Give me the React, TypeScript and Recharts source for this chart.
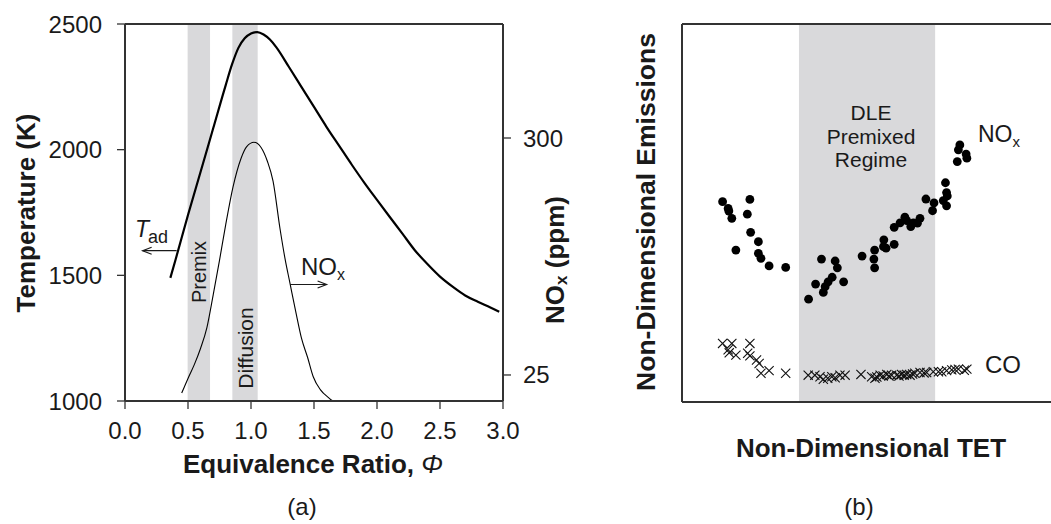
import {
  ComposedChart, ScatterChart, Line, Scatter, XAxis, YAxis, ReferenceArea, ReferenceLine,
} from 'recharts';

// ── panel (a): adiabatic flame temperature and NOx vs equivalence ratio ──
const PHI_TICKS = [0, 0.5, 1, 1.5, 2, 2.5, 3];
const TEMP_TICKS = [1000, 1500, 2000, 2500];
const NOX_TICKS = [25, 300];

const TAD_PHI = [0.36, 0.4, 0.5, 0.6, 0.7, 0.8, 0.85, 0.9, 0.95, 1.0, 1.05, 1.1, 1.15, 1.2, 1.3, 1.4, 1.5, 1.6, 1.7, 1.8, 1.9, 2.0, 2.1, 2.2, 2.3, 2.4, 2.5, 2.6, 2.7, 2.8, 2.9, 2.97];
const TAD_K = [1490, 1560, 1740, 1912, 2085, 2258, 2340, 2405, 2443, 2462, 2468, 2458, 2438, 2408, 2330, 2250, 2170, 2090, 2015, 1940, 1868, 1800, 1733, 1667, 1600, 1545, 1495, 1455, 1420, 1395, 1372, 1355];

const NOX_PHI = [0.45, 0.5, 0.55, 0.6, 0.65, 0.7, 0.75, 0.8, 0.857, 0.92, 0.966, 1.024, 1.08, 1.13, 1.175, 1.23, 1.27, 1.31, 1.36, 1.4, 1.45, 1.494, 1.55, 1.613, 1.653, 1.7];
const NOX_PPM = [4, 21, 37, 56, 80, 118, 158, 200, 243, 276, 290, 295, 289, 273, 250, 195, 160, 131, 95, 68, 45, 23, 8, -1, -5, -5];

const PREMIX_BAND = [0.497, 0.675];
const DIFFUSION_BAND = [0.852, 1.053];

// ── panel (b): non-dimensional emissions vs non-dimensional TET ──
const NOX_TET = [0.110, 0.125, 0.127, 0.135, 0.184, 0.177, 0.186, 0.207, 0.146, 0.207, 0.214, 0.236, 0.281, 0.343, 0.362, 0.383, 0.388, 0.396, 0.407, 0.438, 0.378, 0.415, 0.421, 0.488, 0.522, 0.520, 0.522, 0.547, 0.546, 0.553, 0.575, 0.575, 0.591, 0.604, 0.609, 0.620, 0.627, 0.638, 0.645, 0.661, 0.683, 0.679, 0.714, 0.717, 0.719, 0.708, 0.717, 0.753, 0.749, 0.770, 0.772, 0.746];
const NOX_EMI = [0.530, 0.512, 0.505, 0.486, 0.536, 0.497, 0.449, 0.424, 0.402, 0.393, 0.380, 0.360, 0.356, 0.272, 0.312, 0.290, 0.305, 0.318, 0.330, 0.318, 0.378, 0.373, 0.355, 0.386, 0.402, 0.378, 0.355, 0.429, 0.411, 0.407, 0.417, 0.462, 0.474, 0.489, 0.480, 0.464, 0.474, 0.473, 0.486, 0.537, 0.527, 0.506, 0.580, 0.554, 0.545, 0.533, 0.519, 0.680, 0.667, 0.656, 0.645, 0.636];

const CO_TET = [0.110, 0.135, 0.184, 0.125, 0.128, 0.146, 0.178, 0.184, 0.202, 0.209, 0.214, 0.236, 0.281, 0.342, 0.360, 0.374, 0.383, 0.395, 0.406, 0.415, 0.428, 0.442, 0.485, 0.514, 0.523, 0.528, 0.537, 0.545, 0.555, 0.561, 0.568, 0.582, 0.588, 0.595, 0.602, 0.609, 0.618, 0.625, 0.631, 0.645, 0.656, 0.663, 0.681, 0.695, 0.704, 0.717, 0.731, 0.740, 0.749, 0.765, 0.772];
const CO_EMI = [0.155, 0.155, 0.155, 0.138, 0.130, 0.124, 0.129, 0.122, 0.111, 0.102, 0.076, 0.083, 0.076, 0.071, 0.071, 0.067, 0.060, 0.063, 0.067, 0.064, 0.071, 0.071, 0.073, 0.067, 0.063, 0.066, 0.071, 0.069, 0.073, 0.069, 0.071, 0.071, 0.069, 0.073, 0.071, 0.073, 0.071, 0.074, 0.076, 0.078, 0.077, 0.078, 0.080, 0.080, 0.080, 0.083, 0.085, 0.086, 0.087, 0.084, 0.087];

const DLE_BAND = [0.317, 0.686];

const FONT = '"Liberation Sans", Arial, sans-serif';
const INK = '#1a1a1a';
const AXIS = '#333';
const BAND = '#d9d9db';

const tadData = TAD_PHI.map((phi, i) => ({ phi, val: TAD_K[i] }));
const noxData = NOX_PHI.map((phi, i) => ({ phi, val: NOX_PPM[i] }));
const dotData = NOX_TET.map((x, i) => ({ x, y: NOX_EMI[i] }));
const crossData = CO_TET.map((x, i) => ({ x, y: CO_EMI[i] }));

function Arrow(p: any) {
  const { x1, y1, x2, y2 } = p;
  const d = Math.sign(x2 - x1);
  return (
    <g>
      <line x1={x1} y1={y1} x2={x2} y2={y2} stroke={INK} strokeWidth={1.2} />
      <path d={`M${x2 - d * 9},${y2 - 3.5} L${x2},${y2} L${x2 - d * 9},${y2 + 3.5}`} fill="none" stroke={INK} strokeWidth={1.2} />
    </g>
  );
}

function Dot(p: any) {
  return <circle cx={p.cx} cy={p.cy} r={4.4} fill="#000" />;
}

function Cross(p: any) {
  const { cx, cy } = p;
  const s = 4.6;
  return (
    <path d={`M${cx - s},${cy - s}L${cx + s},${cy + s}M${cx - s},${cy + s}L${cx + s},${cy - s}`}
      stroke="#111" strokeWidth={1.1} fill="none" />
  );
}

const tick = { fontSize: 24, fill: INK };
const frame = { stroke: AXIS, strokeWidth: 2 };

export default function App() {
  return (
    <div style={{ position: 'absolute', left: 0, top: 0, width: 1051, height: 524, background: '#fff', fontFamily: FONT }}>
      {/* ── (a) ── */}
      <div style={{ position: 'absolute', left: 0, top: 0 }}>
        <ComposedChart width={600} height={524} margin={{ top: 24, right: 37, bottom: 83, left: 65 }}>
          <XAxis dataKey="phi" type="number" domain={[0, 3]} ticks={PHI_TICKS} tickFormatter={(v: number) => v.toFixed(1)}
            height={40} tick={tick} tickSize={8} tickMargin={13} allowDataOverflow
            axisLine={frame} tickLine={{ stroke: AXIS, strokeWidth: 1.3 }} />
          <YAxis yAxisId="temp" type="number" domain={[1000, 2500]} ticks={TEMP_TICKS} width={60} tick={tick}
            tickSize={8} tickMargin={15} allowDataOverflow
            axisLine={frame} tickLine={{ stroke: AXIS, strokeWidth: 1.3 }} />
          <YAxis yAxisId="nox" orientation="right" type="number" domain={[-5.2, 432.3]} ticks={NOX_TICKS} width={60}
            tick={tick} tickSize={8} tickMargin={12} allowDataOverflow
            axisLine={frame} tickLine={{ stroke: AXIS, strokeWidth: 1.3 }} />
          <ReferenceArea yAxisId="temp" x1={PREMIX_BAND[0]} x2={PREMIX_BAND[1]} y1={1000} y2={2500} fill={BAND} fillOpacity={1} stroke="none" />
          <ReferenceArea yAxisId="temp" x1={DIFFUSION_BAND[0]} x2={DIFFUSION_BAND[1]} y1={1000} y2={2500} fill={BAND} fillOpacity={1} stroke="none" />
          <ReferenceLine yAxisId="temp" y={2500} {...frame} />
          <Line yAxisId="temp" data={tadData} dataKey="val" type="monotone" stroke="#000" strokeWidth={2.2} dot={false} isAnimationActive={false} />
          <Line yAxisId="nox" data={noxData} dataKey="val" type="monotone" stroke="#000" strokeWidth={1.1} dot={false} isAnimationActive={false} />
          <ReferenceLine yAxisId="temp" segment={[{ x: 0.41, y: 1598 }, { x: 0.14, y: 1598 }]} shape={Arrow} />
          <ReferenceLine yAxisId="nox" segment={[{ x: 1.31, y: 130 }, { x: 1.6, y: 130 }]} shape={Arrow} />
        </ComposedChart>
      </div>

      {/* ── (b) ── */}
      <div style={{ position: 'absolute', left: 600, top: 0 }}>
        <ScatterChart width={451} height={524} margin={{ top: 24, right: 0, bottom: 122, left: 82 }}>
          <XAxis dataKey="x" type="number" domain={[0, 1]} hide />
          <YAxis dataKey="y" type="number" domain={[0, 1]} hide />
          <ReferenceArea x1={DLE_BAND[0]} x2={DLE_BAND[1]} y1={0} y2={1} fill={BAND} fillOpacity={1} stroke="none" />
          <ReferenceLine x={0} {...frame} />
          <ReferenceLine y={0} {...frame} />
          <ReferenceLine y={1} {...frame} />
          <Scatter data={dotData} shape={Dot} isAnimationActive={false} />
          <Scatter data={crossData} shape={Cross} isAnimationActive={false} />
        </ScatterChart>
      </div>

      {/* ── titles and annotations ── */}
      <svg width={1051} height={524} style={{ position: 'absolute', left: 0, top: 0, pointerEvents: 'none' }}
        fontFamily={FONT} fill={INK}>
        <text transform="translate(26,213) rotate(-90)" textAnchor="middle" dominantBaseline="central" fontSize={26} fontWeight="bold">
          Temperature (K)
        </text>
        <text transform="translate(555,260) rotate(-90)" textAnchor="middle" dominantBaseline="central" fontSize={26} fontWeight="bold">
          NO<tspan fontSize={17} dy={6}>x</tspan><tspan dy={-6}> (ppm)</tspan>
        </text>
        <text x={313} y={473} textAnchor="middle" fontSize={26} fontWeight="bold">
          Equivalence Ratio, <tspan fontStyle="italic" fontWeight="normal">Φ</tspan>
        </text>
        <text x={302} y={515} textAnchor="middle" fontSize={24}>(a)</text>

        <text x={135} y={237} fontSize={23} fontStyle="italic">T</text>
        <text x={148} y={243} fontSize={18}>ad</text>
        <text x={301} y={275} fontSize={24}>NO<tspan fontSize={16} dy={5}>x</tspan></text>
        <text transform="translate(199,272) rotate(-90)" textAnchor="middle" dominantBaseline="central" fontSize={20}>Premix</text>
        <text transform="translate(245,348) rotate(-90)" textAnchor="middle" dominantBaseline="central" fontSize={21}>Diffusion</text>

        <text transform="translate(646,212) rotate(-90)" textAnchor="middle" dominantBaseline="central" fontSize={26.5} fontWeight="bold">
          Non-Dimensional Emissions
        </text>
        <text x={871} y={457} textAnchor="middle" fontSize={26} fontWeight="bold">Non-Dimensional TET</text>
        <text x={859} y={515} textAnchor="middle" fontSize={24}>(b)</text>

        <text x={871} y={120} textAnchor="middle" fontSize={21}>DLE</text>
        <text x={871} y={144} textAnchor="middle" fontSize={21}>Premixed</text>
        <text x={871} y={167} textAnchor="middle" fontSize={21}>Regime</text>
        <text x={978} y={142} fontSize={23}>NO<tspan fontSize={15} dy={5}>x</tspan></text>
        <text x={985} y={373} fontSize={24}>CO</text>
      </svg>
    </div>
  );
}
